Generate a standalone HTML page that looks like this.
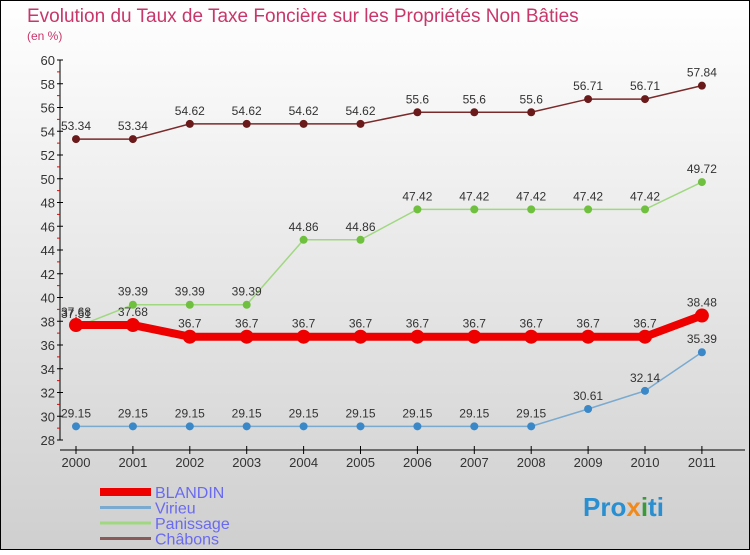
<!DOCTYPE html>
<html><head><meta charset="utf-8"><style>
body{margin:0}
#c{width:750px;height:550px;position:relative;font-family:"Liberation Sans",sans-serif}
</style></head><body>
<div id="c">
<svg id="s" width="750" height="550" xmlns="http://www.w3.org/2000/svg">
<defs><linearGradient id="bg" x1="0" y1="0" x2="0" y2="1"><stop offset="0" stop-color="#ffffff"/><stop offset="1" stop-color="#cfcfcf"/></linearGradient></defs>
<rect x="0.5" y="0.5" width="749" height="549" fill="url(#bg)" stroke="#000"/>
<text x="27" y="22" font-size="19" fill="#c8366a">Evolution du Taux de Taxe Foncière sur les Propriétés Non Bâties</text>
<text x="27" y="40" font-size="12" fill="#c8366a">(en %)</text>
<g id="axes"></g><g id="series"></g><g id="legend"></g>
<text x="583" y="516" font-size="26" font-weight="bold" fill="#2a8fd0">Pro<tspan fill="#f08a1c">x</tspan><tspan fill="#3a9a3a">i</tspan>ti</text>
</svg>
</div>
<script>
const years=["2000","2001","2002","2003","2004","2005","2006","2007","2008","2009","2010","2011"];
const yTicks=[28,30,32,34,36,38,40,42,44,46,48,50,52,54,56,58,60];
const blandin=[37.68,37.68,36.7,36.7,36.7,36.7,36.7,36.7,36.7,36.7,36.7,38.48];
const virieu=[29.15,29.15,29.15,29.15,29.15,29.15,29.15,29.15,29.15,30.61,32.14,35.39];
const panissage=[37.51,39.39,39.39,39.39,44.86,44.86,47.42,47.42,47.42,47.42,47.42,49.72];
const chabons=[53.34,53.34,54.62,54.62,54.62,54.62,55.6,55.6,55.6,56.71,56.71,57.84];
const NS="http://www.w3.org/2000/svg";
function X(i){return 76+i*56.9;}
function Y(v){return 440-(v-28)*380/32;}
function mk(t,a,p){const e=document.createElementNS(NS,t);for(const k in a)e.setAttribute(k,a[k]);p.appendChild(e);return e;}
const ax=document.getElementById('axes');
let e=mk('line',{x1:60,y1:60,x2:60,y2:440,stroke:'#000'},ax);


e=mk('line',{x1:60,y1:450,x2:745,y2:450,stroke:'#000'},ax);


yTicks.forEach(v=>{
 mk('line',{x1:57,y1:Y(v),x2:63,y2:Y(v),stroke:'#000'},ax);
 if(v<60)mk('line',{x1:57,y1:Y(v+1),x2:60,y2:Y(v+1),stroke:'#e00'},ax);
 const t=mk('text',{x:55,y:Y(v)+5,'font-size':13,'text-anchor':'end',fill:'#333'},ax);t.textContent=v;
 
 
});
years.forEach((y,i)=>{
 mk('line',{x1:X(i),y1:446,x2:X(i),y2:454,stroke:'#000'},ax);
 const t=mk('text',{x:X(i),y:467,'font-size':13,'text-anchor':'middle',fill:'#333'},ax);t.textContent=y;
 
 
});
const sg=document.getElementById('series');
function series(d,col,dot,w,r,name){
 const g=mk('g',{},sg);
 
 
 mk('polyline',{points:d.map((v,i)=>X(i)+','+Y(v)).join(' '),fill:'none',stroke:col,'stroke-width':w},g);
 d.forEach((v,i)=>{
  const c=mk('circle',{cx:X(i),cy:Y(v),r:r,fill:dot},g);
  
  
  const t=mk('text',{x:X(i),y:Y(v)-9,'font-size':12,'text-anchor':'middle',fill:'#333'},g);
  t.textContent=String(v);
  
  
 });
}
series(chabons,'#7a2a2a','#6a1a1a',1.5,4,'chabons');
series(panissage,'#a0d880','#70c040',1.5,4,'panissage');
series(virieu,'#7aaad0','#3a88c8',1.5,4,'virieu');
series(blandin,'#ee0000','#ee0000',8,7,'blandin');
const lg=document.getElementById('legend');
const items=[["BLANDIN","#ee0000",8],["Virieu","#7aaad0",3],["Panissage","#a0d880",3],["Châbons","#8a5a5a",3]];
items.forEach((it,i)=>{
 const y=492+i*15.5;
 const g=mk('g',{},lg);
 
 
 mk('line',{x1:100,y1:y,x2:151,y2:y,stroke:it[1],'stroke-width':it[2]},g);
 const t=mk('text',{x:155,y:y+6,'font-size':16,fill:'#6a6af0'},g);t.textContent=it[0];
});
</script>
</body></html>
